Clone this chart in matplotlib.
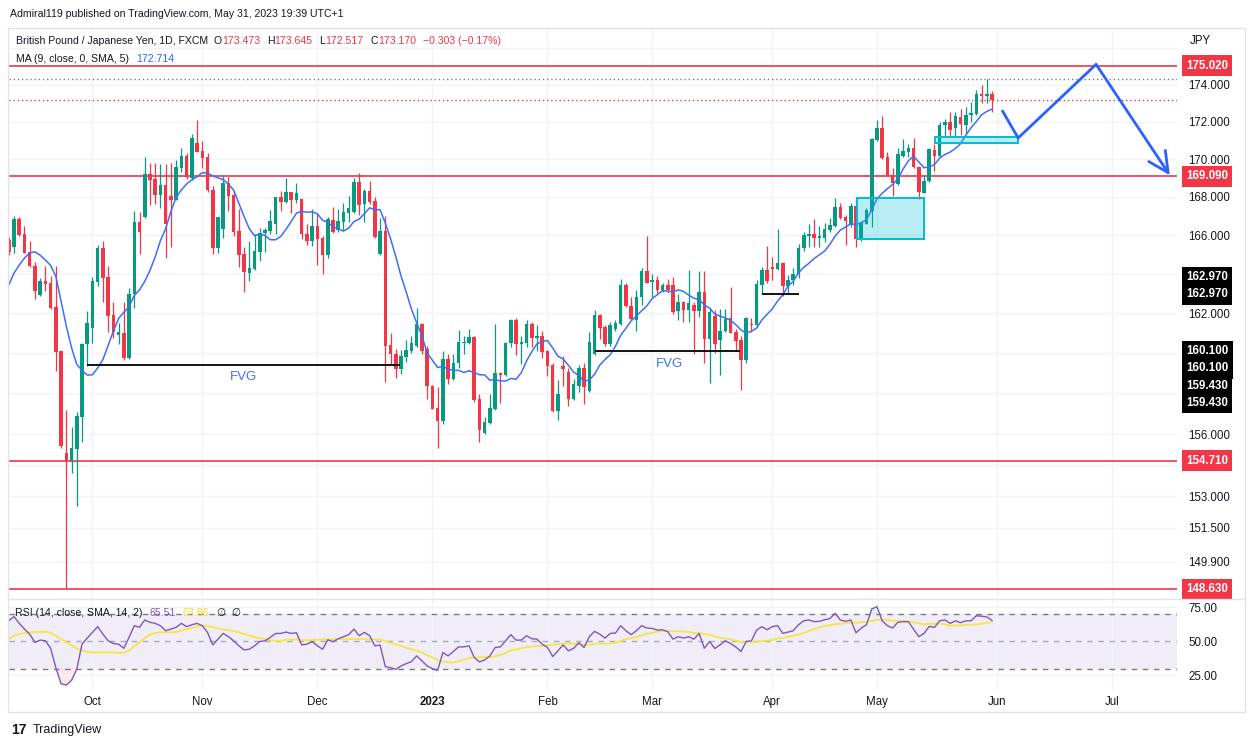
import numpy as np
import pandas as pd
import matplotlib
matplotlib.use('Agg')
import matplotlib.pyplot as plt
from matplotlib.patches import Rectangle
from matplotlib.ticker import NullLocator, NullFormatter

plt.rcParams['font.family'] = ['Liberation Sans', 'DejaVu Sans']

# daily GBPJPY bars, Sep 9 2022 .. May 31 2023 (x = bar index)
opens = [165.74, 165.37, 166.84, 166.05, 165.11, 164.41, 162.94, 163.64, 163.54, 162.31,
         160.10, 155.08, 154.71, 155.30, 156.85, 160.45, 161.25, 163.61, 165.33, 163.85,
         161.90, 160.91, 161.03, 159.76, 162.96, 166.68, 166.96, 169.21, 168.95, 168.12,
         168.63, 168.05, 167.86, 169.54, 170.16, 168.98, 170.84, 170.42, 170.10, 168.37,
         165.32, 166.35, 168.72, 168.11, 166.21, 165.03, 164.07, 164.27, 165.14, 166.12,
         166.22, 166.58, 167.98, 167.75, 168.25, 167.84, 167.88, 166.09, 165.71, 166.47,
         165.86, 164.97, 166.79, 166.26, 166.70, 167.17, 167.23, 168.81, 167.63, 168.33,
         167.81, 165.03, 166.21, 160.41, 159.94, 159.20, 159.82, 160.10, 160.36, 161.48,
         160.19, 158.39, 157.30, 156.65, 159.69, 158.70, 159.53, 160.50, 160.50, 160.79,
         157.70, 156.08, 156.55, 157.25, 159.02, 158.92, 160.50, 161.68, 160.46, 160.51,
         161.48, 160.76, 160.85, 160.10, 159.41, 157.14, 159.37, 159.04, 157.70, 158.39,
         159.28, 158.11, 159.98, 161.90, 161.30, 160.45, 161.22, 161.48, 163.44, 162.38,
         161.64, 162.84, 164.15, 163.59, 163.69, 163.18, 163.44, 163.44, 162.10, 162.55,
         162.15, 162.41, 162.10, 163.09, 160.69, 161.86, 160.65, 161.10, 161.76, 161.05,
         160.66, 159.66, 161.48, 161.39, 163.44, 164.20, 164.35, 164.24, 164.58, 163.38,
         163.69, 163.98, 165.32, 165.95, 166.09, 165.88, 165.88, 166.26, 166.49, 167.49,
         166.96, 166.52, 167.54, 165.79, 166.61, 167.28, 171.00, 171.65, 170.09, 169.16,
         168.68, 170.17, 170.38, 170.56, 169.59, 168.23, 168.86, 170.47, 170.16, 171.79,
         172.00, 171.63, 172.24, 171.84, 172.33, 172.43, 173.50, 173.39, 173.47]
highs = [165.90, 167.00, 166.95, 166.47, 165.69, 164.63, 163.81, 164.41, 163.90, 164.41,
         160.10, 157.17, 156.34, 157.07, 160.53, 162.14, 163.86, 165.52, 165.69, 164.41,
         162.55, 161.52, 162.60, 163.28, 167.26, 167.21, 170.10, 169.81, 169.77, 169.74,
         169.74, 169.81, 169.95, 170.61, 170.30, 171.32, 172.10, 170.95, 170.33, 168.58,
         166.95, 169.10, 169.07, 168.32, 167.37, 165.40, 165.69, 166.05, 166.38, 166.38,
         167.32, 168.00, 168.32, 168.98, 168.27, 168.75, 167.90, 166.58, 167.35, 167.14,
         165.95, 166.96, 167.46, 167.35, 167.67, 168.05, 168.98, 169.28, 168.40, 168.84,
         168.02, 166.88, 167.00, 161.00, 160.19, 160.14, 160.66, 160.87, 162.29, 161.50,
         160.36, 158.40, 158.34, 160.10, 159.97, 159.97, 161.17, 160.85, 161.20, 160.88,
         157.95, 156.84, 157.95, 161.48, 159.05, 160.55, 161.73, 161.75, 160.85, 161.68,
         161.55, 161.39, 161.13, 160.14, 159.53, 158.67, 159.85, 159.28, 158.72, 159.41,
         159.53, 161.08, 162.15, 161.98, 161.39, 161.56, 161.64, 163.74, 163.52, 162.84,
         163.18, 164.29, 165.95, 164.00, 163.90, 163.52, 163.74, 163.83, 162.97, 162.63,
         164.20, 162.58, 164.14, 164.14, 162.29, 162.15, 162.24, 162.24, 163.35, 161.22,
         160.87, 161.81, 161.78, 163.69, 164.38, 165.44, 164.89, 166.35, 164.63, 163.95,
         164.29, 165.57, 166.17, 166.58, 166.82, 166.50, 166.65, 166.88, 167.96, 167.67,
         167.05, 167.70, 167.96, 166.75, 167.40, 171.14, 172.06, 172.28, 170.38, 169.51,
         170.56, 171.04, 170.79, 171.14, 169.62, 169.11, 170.56, 170.79, 171.96, 172.15,
         172.52, 172.52, 172.65, 172.80, 173.08, 173.72, 174.00, 174.28, 173.65]
lows = [165.00, 165.09, 165.95, 165.06, 164.35, 162.72, 162.90, 163.16, 162.20, 159.09,
        155.35, 148.63, 154.13, 152.56, 155.60, 159.37, 160.53, 163.40, 162.58, 161.05,
        160.74, 160.45, 159.67, 159.71, 162.27, 165.01, 166.90, 167.58, 167.62, 167.42,
        164.84, 165.40, 167.84, 169.33, 168.93, 168.90, 170.35, 169.51, 168.28, 165.03,
        165.09, 165.86, 167.28, 165.96, 164.37, 163.07, 163.66, 164.20, 164.68, 165.14,
        166.09, 166.09, 167.28, 167.67, 167.17, 167.67, 165.81, 165.49, 165.44, 164.46,
        164.00, 164.80, 166.12, 166.17, 166.26, 166.70, 167.14, 167.05, 166.70, 167.63,
        165.88, 164.99, 158.55, 159.45, 158.77, 158.96, 159.58, 160.02, 160.31, 159.97,
        157.74, 157.21, 155.35, 156.48, 158.44, 158.67, 159.28, 159.94, 160.44, 157.60,
        155.63, 156.03, 156.48, 157.20, 157.53, 158.88, 160.31, 159.90, 159.45, 160.31,
        160.31, 160.10, 159.74, 158.84, 157.10, 156.68, 158.36, 157.38, 157.66, 158.06,
        157.46, 158.05, 159.90, 160.72, 160.34, 160.36, 161.13, 161.42, 162.33, 161.64,
        161.13, 162.41, 163.52, 162.84, 163.01, 163.09, 163.01, 161.98, 161.64, 161.56,
        161.56, 159.98, 161.81, 159.50, 158.50, 160.00, 158.91, 161.05, 160.99, 160.10,
        158.19, 159.50, 161.05, 161.30, 162.96, 163.52, 163.69, 164.20, 162.89, 163.01,
        163.44, 163.78, 165.20, 165.37, 165.40, 165.40, 165.66, 166.17, 166.44, 166.82,
        165.49, 166.44, 165.40, 165.71, 166.58, 166.44, 170.96, 169.98, 169.09, 168.05,
        168.63, 170.12, 170.12, 169.51, 167.88, 168.19, 168.81, 169.38, 170.12, 171.21,
        171.21, 171.17, 171.26, 171.35, 171.98, 172.33, 172.98, 173.02, 172.52]
closes = [165.14, 166.84, 166.00, 165.09, 164.40, 163.14, 163.62, 163.50, 162.26, 160.08,
          155.43, 154.71, 155.33, 156.88, 160.48, 161.49, 163.64, 165.33, 163.81, 161.86,
          161.08, 161.05, 159.76, 162.99, 166.68, 166.17, 169.21, 168.91, 168.12, 168.63,
          166.60, 167.86, 169.58, 170.16, 169.07, 171.14, 170.38, 170.07, 168.37, 165.32,
          166.93, 168.72, 168.07, 166.17, 164.97, 164.12, 164.31, 165.18, 166.12, 166.26,
          166.75, 167.98, 167.75, 168.25, 167.84, 168.19, 166.05, 165.71, 166.47, 165.79,
          164.97, 166.82, 166.17, 166.74, 167.23, 167.44, 168.81, 167.58, 168.33, 167.75,
          165.91, 166.21, 160.37, 159.94, 159.20, 159.85, 160.15, 160.50, 161.48, 160.10,
          158.35, 157.25, 156.65, 159.69, 158.70, 159.53, 160.54, 160.54, 160.79, 157.66,
          156.19, 156.60, 157.30, 159.02, 158.92, 160.50, 161.68, 160.46, 160.54, 161.48,
          160.76, 160.85, 160.05, 159.37, 157.14, 157.95, 159.23, 157.70, 158.44, 159.28,
          158.31, 160.54, 161.90, 161.27, 160.45, 161.39, 161.52, 163.44, 162.38, 161.69,
          162.84, 164.17, 163.55, 163.72, 163.18, 163.45, 163.18, 162.07, 162.55, 162.15,
          162.50, 162.10, 163.09, 160.69, 162.07, 160.46, 161.13, 161.73, 161.03, 160.59,
          159.66, 161.78, 161.43, 163.49, 164.20, 163.66, 164.24, 164.58, 163.38, 163.72,
          164.00, 165.32, 166.00, 166.09, 165.88, 165.95, 166.30, 166.52, 167.49, 166.88,
          166.74, 167.54, 165.79, 166.65, 167.32, 171.05, 171.65, 170.04, 169.11, 168.72,
          170.25, 170.42, 170.56, 169.57, 168.28, 168.86, 170.51, 170.16, 171.84, 172.00,
          171.53, 172.28, 171.88, 172.37, 172.47, 173.48, 173.39, 173.50, 173.17]

# MA(9) values for the first bars (history before the window)
ma_head = [163.44, 164.05, 164.46, 164.82, 165.09, 165.14, 164.97, 164.72]

rsi = [65.3, 68.3, 63.3, 59.1, 55.4, 49.3, 51.0, 50.5, 45.0, 30.7, 18.9, 17.9, 21.4,
       29.5, 48.0, 52.5, 56.7, 60.9, 55.4, 50.5, 48.5, 48.0, 45.0, 53.0, 61.6, 60.4,
       65.8, 64.1, 63.3, 61.6, 57.9, 59.1, 60.4, 63.3, 60.9, 62.3, 63.3, 61.6, 56.7,
       47.5, 51.7, 55.9, 53.5, 50.5, 46.8, 43.8, 44.3, 46.8, 50.0, 50.5, 53.0, 55.9,
       55.9, 56.9, 55.9, 56.4, 47.5, 48.0, 50.0, 46.8, 44.3, 51.2, 49.8, 52.0, 53.5,
       55.0, 59.1, 54.2, 56.7, 54.2, 46.8, 47.3, 31.5, 30.7, 29.5, 32.0, 33.7, 35.2,
       39.4, 35.7, 32.0, 30.0, 28.7, 41.9, 39.4, 42.6, 46.0, 46.0, 46.8, 38.2, 35.0,
       36.4, 39.4, 45.6, 46.0, 50.5, 55.0, 51.0, 51.0, 54.2, 52.0, 51.7, 48.0, 45.6,
       38.9, 43.1, 47.5, 43.1, 45.0, 49.0, 45.6, 53.5, 57.4, 55.4, 52.5, 55.9, 56.2,
       61.6, 57.9, 55.0, 57.9, 61.6, 59.9, 59.6, 58.4, 58.6, 57.2,
       51.7, 53.5, 52.5, 53.5, 51.7, 55.9, 45.0, 50.0, 44.8, 47.5, 50.5, 48.5, 46.0,
       42.6, 50.0, 50.5, 58.4, 60.9, 58.6, 60.9, 61.6, 55.9, 56.9, 57.9, 62.3, 65.2,
       65.8, 64.6, 64.8, 66.0, 66.8, 70.7, 65.8, 64.8, 65.8, 56.4, 59.9, 62.3, 73.9,
       75.6, 65.2, 61.6, 59.9, 64.1, 64.6, 64.6, 59.1, 53.5, 55.9, 61.1, 60.4, 65.2,
       65.8, 63.3, 65.2, 63.8, 65.2, 65.2, 68.9, 68.6, 68.1, 65.5]
rsi_ma_head = [51.7, 54.2, 55.4, 56.2, 56.7, 56.9, 57.2, 57.2, 56.4, 54.2, 51.7, 49.3, 47.3]

month_idx = [16, 37, 59, 81, 103, 123, 146, 166, 189, 211]
month_lab = ['Oct', 'Nov', 'Dec', '2023', 'Feb', 'Mar', 'Apr', 'May', 'Jun', 'Jul']
price_ticks = [176, 174, 172, 170, 168, 166, 164, 162, 160, 158, 156, 154.5, 153, 151.5, 149.9]
price_shown = [174, 172, 170, 168, 166, 162, 156, 153, 151.5, 149.9]
red_levels = [175.02, 169.09, 154.71, 148.63]
high_dot = 174.28
close_dot = 173.17
# (price, start bar, end bar)
black_lines = [(159.43, 15, 74.8), (160.10, 112, 139.8), (162.97, 144, 151)]
fvg_labels = [(44.8, 158.8), (126.4, 159.45)]
# (bar0, bar1, price0, price1)
boxes = [(162.1, 175.05, 165.83, 167.93), (177.15, 193.03, 170.83, 171.19)]
arrow_x = [190.0, 193.0, 207.9, 222.0]
arrow_y = [172.57, 171.12, 175.10, 169.14]
# axis tags: text, price, shift (px down), colour
tags = [('175.020', 175.02, 0, '#f23645'), ('169.090', 169.09, 0, '#f23645'),
        ('154.710', 154.71, 0, '#f23645'), ('148.630', 148.63, 0, '#f23645'),
        ('162.970', 162.97, -17, '#000000'), ('162.970', 162.97, 0, '#000000'),
        ('160.100', 160.10, 0, '#000000'), ('160.100', 160.10, 17, '#000000'),
        ('159.430', 159.43, 21, '#000000'), ('159.430', 159.43, 38, '#000000')]

GREEN = '#089981'
RED = '#f23645'
BLUE = '#2962ff'
TXT = '#131722'
GRID = '#f0f3fa'
W, H = 1250, 748
HSZ = 7.6


def fx(x):
    return x / W


def fy(y):
    return 1 - y / H


fig = plt.figure(figsize=(12.5, 7.48), dpi=100)
ax = fig.add_axes([fx(9), fy(598), 1168 / W, 570 / H])
axr = fig.add_axes([fx(9), fy(690), 1168 / W, 90 / H])


def chain(owner, x0, y0, pieces):
    # pieces: (text, colour, gap in points before it); drawn by the pane that holds them
    t = owner.text(fx(x0), fy(y0), pieces[0][0], fontsize=HSZ, color=pieces[0][1], va='center',
                   transform=fig.transFigure, zorder=9)
    for s, col, gap in pieces[1:]:
        t = owner.annotate(s, xy=(1, 0.5), xycoords=t, xytext=(gap, 0), textcoords='offset points',
                           ha='left', va='center', fontsize=HSZ, color=col,
                           annotation_clip=False, zorder=9)
    return t


x = np.arange(len(opens))
o = np.array(opens); h = np.array(highs); l = np.array(lows); c = np.array(closes)
cols = np.where(c >= o, GREEN, RED)

ax.set_yscale('log')
ax.set_ylim(148.22, 177.1)
ax.set_xlim(0.044, 223.37)
ax.yaxis.set_minor_locator(NullLocator())
ax.yaxis.set_minor_formatter(NullFormatter())
ax.set_yticks(price_ticks, labels=[('%.3f' % t if t in price_shown else '') for t in price_ticks])
ax.yaxis.tick_right()
ax.tick_params(axis='y', length=0, pad=8, labelsize=8.3, labelcolor=TXT)
ax.set_xticks(month_idx)
ax.set_xticklabels([])
ax.tick_params(axis='x', length=0)
ax.grid(color=GRID, lw=1, zorder=0)
for s in ax.spines.values():
    s.set_visible(False)

ax.vlines(x, l, h, colors=cols, lw=0.9, zorder=3)
body = np.maximum(np.abs(c - o), 0.04)
ax.bar(x, body, bottom=np.minimum(o, c), width=0.68, color=cols, lw=0, zorder=4)

ma = pd.Series(closes).rolling(9).mean().values
ma[:len(ma_head)] = ma_head
ax.plot(x, ma, color='#3d6eff', lw=1.1, zorder=5)

for p in red_levels:
    ax.axhline(p, color=RED, lw=1.2, zorder=2)
ax.axhline(high_dot, color='#787b86', lw=1, ls=(0, (1, 2)), zorder=2)
ax.axhline(close_dot, color=RED, lw=1, ls=(0, (1, 2)), zorder=2)
for p, a, b in black_lines:
    ax.hlines(p, a, b, color='black', lw=1.3, zorder=6)
for bx, by in fvg_labels:
    ax.text(bx, by, 'FVG', color='#3f72f5', fontsize=9.5, ha='center', va='center', zorder=7)
for a, b, p0, p1 in boxes:
    ax.add_patch(Rectangle((a, p0), b - a, p1 - p0, fc=(0, 0.74, 0.83, 0.27),
                           ec='#00bcd4', lw=1.4, zorder=6))

ax.plot(arrow_x[:3], arrow_y[:3], color=BLUE, lw=2, zorder=7, solid_capstyle='round')
ax.annotate('', xy=(arrow_x[3], arrow_y[3]), xytext=(arrow_x[2], arrow_y[2]),
            arrowprops=dict(arrowstyle='->,head_length=0.8,head_width=0.4', color=BLUE, lw=2,
                            shrinkA=0, shrinkB=0, mutation_scale=18), zorder=7)

for t, p, dy, col in tags:
    ax.annotate(t, xy=(1, p), xycoords=ax.get_yaxis_transform(), xytext=(6.5, -dy * 0.72),
                textcoords='offset points', ha='left', va='center', color='white',
                fontsize=8.3, fontweight='bold', annotation_clip=False, zorder=10,
                bbox=dict(boxstyle='square,pad=0.38', fc=col, ec='none'))

# RSI pane
r = np.array(rsi)
rma = pd.Series(rsi).rolling(14).mean().values
rma[:len(rsi_ma_head)] = rsi_ma_head
axr.set_xlim(0.044, 223.37)
axr.set_ylim(14.3, 80.5)
axr.axhspan(30, 70, color='#7e57c2', alpha=0.1, lw=0, zorder=1)
axr.axhline(70, color='#787b86', lw=1, ls=(0, (4, 4)), zorder=2)
axr.axhline(30, color='#787b86', lw=1, ls=(0, (4, 4)), zorder=2)
axr.axhline(50, color='#a8abb5', lw=1, ls=(0, (4, 4)), zorder=2)
axr.fill_between(x, r, 30, where=r < 30, interpolate=True, color=RED, alpha=0.12, lw=0)
axr.fill_between(x, r, 70, where=r > 70, interpolate=True, color=GREEN, alpha=0.12, lw=0)
axr.plot(x, r, color='#7e57c2', lw=1, zorder=4)
axr.plot(x, rma, color='#f7e540', lw=1.3, zorder=3)
axr.set_yticks([75, 50, 25], labels=['75.00', '50.00', '25.00'])
axr.yaxis.tick_right()
axr.tick_params(axis='y', length=0, pad=8, labelsize=8.3, labelcolor=TXT)
axr.set_xticks(month_idx, labels=month_lab)
axr.tick_params(axis='x', length=0, pad=4, labelsize=8.3, labelcolor=TXT)
axr.get_xticklabels()[3].set_fontweight('bold')
axr.grid(color=GRID, lw=1, zorder=0)
for s in axr.spines.values():
    s.set_visible(False)

# frame and separators
fig.add_artist(Rectangle((fx(8), fy(712)), 1237 / W, 684 / H, transform=fig.transFigure,
                         fill=False, ec='#e0e3eb', lw=1))
fig.add_artist(plt.Line2D([fx(8), fx(1245)], [fy(599), fy(599)], transform=fig.transFigure,
                          color='#e0e3eb', lw=1))

# header and legends
fig.text(fx(10), fy(14), 'Admiral119 published on TradingView.com, May 31, 2023 19:39 UTC+1',
         fontsize=HSZ, color=TXT, va='center')
chain(ax, 16, 41, [('British Pound / Japanese Yen, 1D, FXCM', TXT, 0),
                   ('O', TXT, 4), ('173.473', RED, 0), ('H', TXT, 5), ('173.645', RED, 0),
                   ('L', TXT, 5), ('172.517', RED, 0), ('C', TXT, 5), ('173.170', RED, 0),
                   ('\u22120.303 (\u22120.17%)', RED, 5)])
chain(ax, 16, 59, [('MA (9, close, 0, SMA, 5)', TXT, 0), ('172.714', BLUE, 5)])
fig.text(fx(1190), fy(41), 'JPY', fontsize=8.3, color=TXT, va='center')

chain(axr, 15, 613, [('RSI (14, close, SMA, 14, 2)', TXT, 0), ('65.51', '#7e57c2', 5),
                     ('63.86', '#f2d92f', 5), ('\u2205', TXT, 5), ('\u2205', TXT, 4)])

fig.text(fx(11), fy(730), '17', fontsize=10, fontweight='bold', color=TXT, va='center')
fig.text(fx(33), fy(730), 'TradingView', fontsize=9, color=TXT, va='center')

fig.savefig('out.png', dpi=100)
